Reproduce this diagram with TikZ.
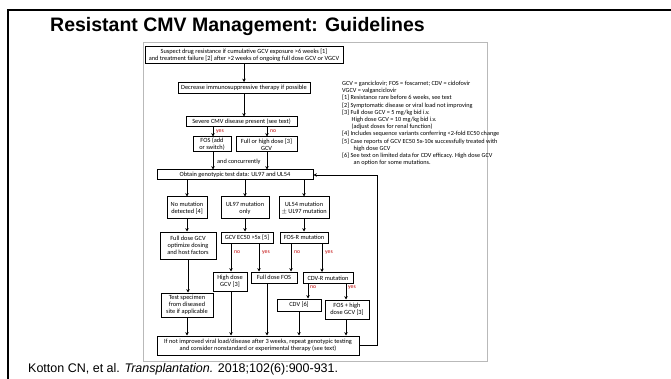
\documentclass[tikz,border=0pt]{standalone}
\usepackage{fontspec}
\setmainfont{Liberation Sans}
\newfontfamily\cfont{Carlito}
\usetikzlibrary{arrows.meta}
\definecolor{labred}{HTML}{C00000}
\tikzset{
  box/.style={draw, line width=1pt, fill=white, align=center, inner sep=0pt,
    font=\cfont\fontsize{6.35}{7.1}\selectfont},
  arr/.style={-{Stealth[length=3.4pt,width=3.4pt]}, line width=0.95pt},
  lab/.style={text=labred, font=\cfont\fontsize{5.7}{6}\selectfont, inner sep=0pt},
  legline/.style={anchor=base west, inner sep=0pt, font=\cfont\fontsize{6.25}{7}\selectfont},
}
\newcommand{\bx}[6]{\node[box, minimum width=#4, minimum height=#5] (#1) at (#2,#3) {#6};}
\begin{document}
\begin{tikzpicture}[x=1pt,y=-1pt]
\useasboundingbox (0,0) rectangle (671,379);
\fill[white] (0,0) rectangle (671,379);
% outer frame
\draw[line width=2pt] (671,10) -- (8,10) -- (8,379);
% title and footer
\node[anchor=base west, inner sep=0pt, font=\bfseries\fontsize{19.5}{22}\selectfont] (title) at (50,32) {Resistant CMV Management: Guidelines};
\node[anchor=base west, inner sep=0pt, font=\fontsize{12.5}{14}\selectfont] (foot) at (28,372) {Kotton CN, et al. \textit{Transplantation.} 2018;102(6):900-931.};
% inner panel
\draw[gray!55, line width=0.6pt] (143,42) rectangle (487,361);
% boxes
\bx{sus}{244}{55.5}{198}{17}{Suspect drug resistance if cumulative GCV exposure >6 weeks [1]\\and treatment failure [2] after >2 weeks of ongoing full dose GCV or VGCV}
\bx{dec}{244}{88}{132}{11}{Decrease immunosuppressive therapy if possible}
\bx{sev}{241.5}{122}{111}{10}{Severe CMV disease present (see text)}
\bx{fos}{212}{144.5}{38}{15}{FOS (add\\or switch)}
\bx{full}{266.5}{144.5}{61}{15}{Full or high dose [3]\\GCV}
\bx{obt}{235}{175}{156}{10}{Obtain genotypic test data: UL97 and UL54}
\bx{nomut}{187}{208}{40}{22}{No mutation\\detected [4]}
\bx{ul97}{245}{208}{48}{22}{UL97 mutation\\only}
\bx{ul54}{304}{208}{50}{22}{UL54 mutation\\$\pm$ UL97 mutation}
\bx{fdg}{188}{245.5}{56}{27}{Full dose GCV\\optimize dosing\\and host factors}
\bx{ec50}{247}{237.5}{52}{11}{GCV EC50 >5x [5]}
\bx{fosr}{304}{237.5}{48}{11}{FOS-R mutation}
\bx{hdg}{230}{281.5}{34}{19}{High dose\\GCV [3]}
\bx{fdf}{274}{277.5}{46}{11}{Full dose FOS}
\bx{cdvr}{328}{278}{50}{11}{CDV-R mutation}
\bx{test}{187}{305}{52}{24}{Test specimen\\from diseased\\site if applicable}
\bx{cdv}{299}{305}{44}{12}{CDV [6]}
\bx{fhd}{347}{309.5}{44}{19}{FOS + high\\dose GCV [3]}
\bx{ifn}{258}{345.5}{202}{19}{If not improved viral load/disease after 3 weeks, repeat genotypic testing\\and consider nonstandard or experimental therapy (see text)}
% legend
\node[legline] (leg1) at (342,85.5) {GCV = ganciclovir; FOS = foscarnet; CDV = cidofovir};
\node[legline] (leg2) at (342,92.7) {VGCV = valganciclovir};
\node[legline] (leg3) at (342,99.9) {[1] Resistance rare before 6 weeks, see text};
\node[legline] (leg4) at (342,107.1) {[2] Symptomatic disease or viral load not improving};
\node[legline] (leg5) at (342,114.3) {[3] Full dose GCV = 5 mg/kg bid i.v.};
\node[legline] (leg6) at (351.5,121.5) {High dose GCV = 10 mg/kg bid i.v.};
\node[legline] (leg7) at (351.5,128.7) {(adjust doses for renal function)};
\node[legline] (leg8) at (342,135.9) {[4] Includes sequence variants conferring <2-fold EC50 change};
\node[legline] (leg9) at (342,143.1) {[5] Case reports of GCV EC50 5x-10x successfully treated with};
\node[legline] (leg10) at (353.5,150.3) {high dose GCV};
\node[legline] (leg11) at (342,157.5) {[6] See text on limited data for CDV efficacy. High dose GCV};
\node[legline] (leg12) at (353.5,164.7) {an option for some mutations.};
% x guides
\coordinate (xa) at (231,0);
\coordinate (xb) at (259,0);
\coordinate (xc) at (291,0);
\coordinate (xd) at (322,0);
\coordinate (xe) at (267,0);
\coordinate (xf) at (308,0);
\coordinate (xg) at (346,0);
\coordinate (xh) at (213,0);
% arrows
\draw[arr] (sus.south) -- (dec.north);
\draw[arr] (dec.south) -- (dec.south |- sev.north);
\draw[arr] (sev.south -| xh) -- (fos.north -| xh);
\draw[arr] (sev.south -| xe) -- (full.north -| xe);
\draw[arr] (fos.south -| xh) -- (obt.north -| xh);
\draw[arr] (full.south -| xe) -- (obt.north -| xe);
\draw[arr] (obt.south -| nomut) -- (nomut.north);
\draw[arr] (obt.south -| ul97) -- (ul97.north);
\draw[arr] (obt.south -| ul54) -- (ul54.north);
\draw[arr] (nomut.south) -- (nomut.south |- fdg.north);
\draw[arr] (ul97.south) -- (ul97.south |- ec50.north);
\draw[arr] (ul54.south) -- (fosr.north);
\draw[arr] (ec50.south -| xa) -- (hdg.north -| xa);
\draw[arr] (ec50.south -| xb) -- (fdf.north -| xb);
\draw[arr] (fosr.south -| xc) -- (fdf.north -| xc);
\draw[arr] (fosr.south -| xd) -- (cdvr.north -| xd);
\draw[arr] (cdvr.south -| xf) -- (cdv.north -| xf);
\draw[arr] (cdvr.south -| xg) -- (fhd.north -| xg);
\draw[arr] (fdg.south) -- (fdg.south |- test.north);
\draw[arr] (test.south) -- (test.south |- ifn.north);
\draw[arr] (hdg.south -| xa) -- (ifn.north -| xa);
\draw[arr] (fdf.south -| xe) -- (ifn.north -| xe);
\draw[arr] (cdv.south) -- (cdv.south |- ifn.north);
\draw[arr] (fhd.south -| xg) -- (ifn.north -| xg);
\draw[arr] (ifn.east) -- ++(18,0) |- (obt.east);
% labels
\node[lab, anchor=north west] at ([xshift=3pt,yshift=-2pt]sev.south -| xh) {yes};
\node[lab, anchor=north west] at ([xshift=3pt,yshift=-2pt]sev.south -| xe) {no};
\node[lab, anchor=west, font=\cfont\fontsize{6.3}{7}\selectfont, text=black] at ([xshift=4pt,yshift=-9pt]fos.south -| xh) {and concurrently};
\node[lab, anchor=north west] at ([xshift=3pt,yshift=-7pt]ec50.south -| xa) {no};
\node[lab, anchor=north west] at ([xshift=3pt,yshift=-7pt]ec50.south -| xb) {yes};
\node[lab, anchor=north west] at ([xshift=3pt,yshift=-7pt]fosr.south -| xc) {no};
\node[lab, anchor=north west] at ([xshift=3pt,yshift=-7pt]fosr.south -| xd) {yes};
\node[lab, anchor=north west] at ([xshift=2pt,yshift=-2pt]cdvr.south -| xf) {no};
\node[lab, anchor=north west] at ([xshift=2pt,yshift=-2pt]cdvr.south -| xg) {yes};
\end{tikzpicture}
\end{document}
